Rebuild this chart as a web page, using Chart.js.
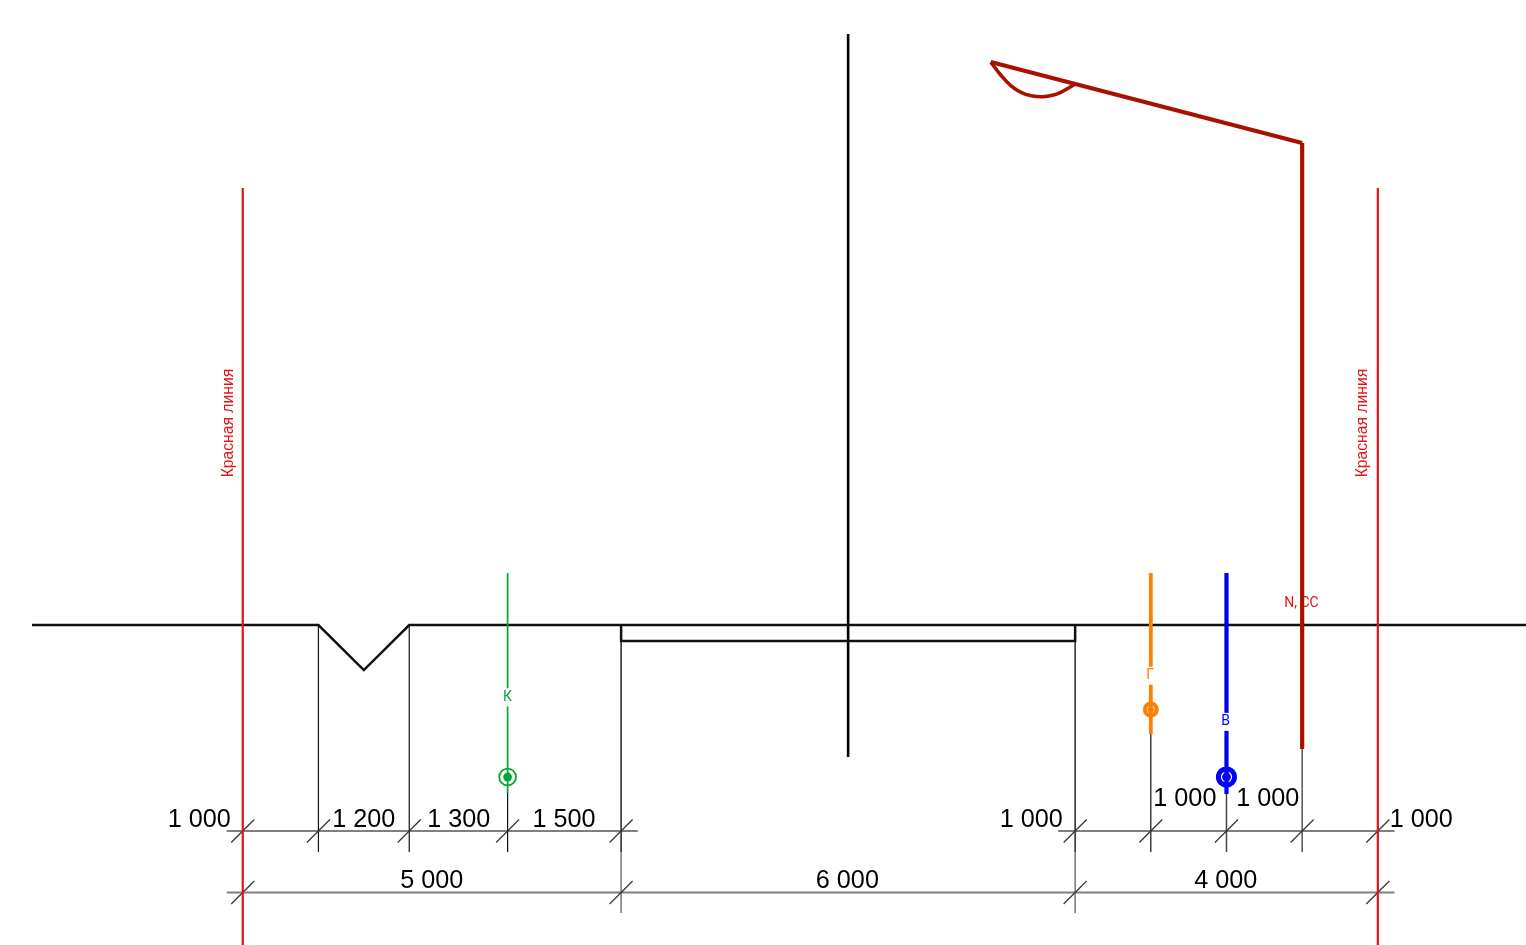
<!DOCTYPE html>
<html><head><meta charset="utf-8">
<style>html,body{margin:0;padding:0;background:#fff;overflow:hidden}canvas{display:block}</style>
<script src="https://cdn.jsdelivr.net/npm/chart.js@4"></script></head>
<body><canvas id="c" width="1526" height="945"></canvas>
<script>
// All lengths in millimetres; x from the left red line, y from ground level.
const xRange=[-3208,16958], yRange=[-4229,8260];
const groundX=[-2785,1000,1600,2200,16958], groundY=[0,0,-595,0,0];
const slabX=[5000,5000,11000,11000], slabY=[0,-211,-211,0];
const axisX=[8000,8000], axisY=[7810,-1744];
const redLineTop=5775, redLineBottom=-4229, redLineXs=[0,15000];
const extFull=[1000,2200], extBottom=-3000, extLongBottom=-3806, extLongXs=[5000,11000];
const dimRow1Y=-2722, dimRow2Y=-3535;
const dimRow1Spans=[[-211,5220],[10775,15220]], dimRow2Spans=[[-211,15220]];
const dimRow1Ticks=[0,1000,2200,3500,5000,11000,12000,13000,14000,15000];
const dimRow2Ticks=[0,5000,11000,15000];
const greenX=3500, greenY=[687,-2220], greenNode=-2009;
const orangeX=12000, orangeY=[687,-1440], orangeNode=-1117;
const blueX=13000, blueY=[687,-2235], blueNode=-2009;
const poleX=14000, poleY=[6370,-1639];
const armX=[14000,9885], armY=[6370,7440];
const lampX=[9885,10020,10149,10285,10420,10568,10700,10810,11000];
const lampY=[7440,7265,7130,7040,6995,6982,7000,7040,7146];
const dimLabels=['1 000','1 200','1 300','1 500','1 000','1 000','1 000','1 000','5 000','6 000','4 000'];
const dimLabelX=[-575,1600,2855,4245,10420,12450,13545,15575,2498,7990,12990];
const dimLabelY=[-2577,-2577,-2577,-2577,-2577,-2299,-2299,-2577,-3383,-3383,-3383];
const netLabels=['К','Г','В'], netLabelX=[3500,11990,12990], netLabelY=[-955,-670,-1280];
const poleLabel='N, СС', poleLabelX=13990, poleLabelY=290;
const redLabel='Красная линия', redLabelX=[-183,14795], redLabelY=2669;

const RED='#e31414', POLE='#a81000', GREEN='#0aa33a', ORANGE='#ff8000', BLUE='#0000f5', DIM='#7f7f7f';
const list=[]; // drawn bottom to top
function line(xs,ys,color,width,extra){list.push(Object.assign({data:xs.map((x,i)=>({x,y:ys[i]})),borderColor:color,borderWidth:width,showLine:true,pointRadius:0,tension:0,fill:false},extra||{}));}
function dot(x,y,r,fill,stroke,sw){list.push({data:[{x,y}],showLine:false,pointRadius:r,pointStyle:'circle',pointBackgroundColor:fill,pointBorderColor:stroke,pointBorderWidth:sw});}

// dimension rows
[[dimRow1Y,dimRow1Spans],[dimRow2Y,dimRow2Spans]].forEach(([y,spans])=>spans.forEach(s=>line(s,[y,y],DIM,2)));
// extension lines
line([5000,5000],[-211,extBottom],'#333',1.6);line([11000,11000],[-211,extBottom],'#333',1.6);
extLongXs.forEach(x=>line([x,x],[extBottom,extLongBottom],'#777',1.5));
extFull.forEach(x=>line([x,x],[0,extBottom],'#111',1.2));
line([greenX,greenX],[greenY[1],extBottom],'#111',1.2);
line([orangeX,orangeX],[orangeY[1],extBottom],'#111',1.2);
line([blueX,blueX],[blueY[1],extBottom],'#444',1.5);
line([poleX,poleX],[poleY[1],extBottom],'#555',1.5);
// tick slashes
[[dimRow1Ticks,dimRow1Y],[dimRow2Ticks,dimRow2Y]].forEach(([xs,y])=>xs.forEach(x=>line([x-152,x+152],[y-152,y+152],'#333',1.2)));
// ground and road
line(groundX,groundY,'#111',2.5);
line(slabX,slabY,'#111',2.5);
line(axisX,axisY,'#000',2.6);
redLineXs.forEach(x=>line([x,x],[redLineTop,redLineBottom],RED,2.2));
// networks
dot(greenX,greenNode,8.4,'#fff',GREEN,1.8);
dot(greenX,greenNode,4.4,GREEN,GREEN,0);
line([greenX,greenX],greenY,GREEN,1.7);
dot(orangeX,orangeNode,8,ORANGE,ORANGE,0);
dot(orangeX,orangeNode,3.6,'rgba(0,0,0,0)','#ffe0c0',1);
line([orangeX,orangeX],orangeY,ORANGE,3.8);
dot(blueX,blueNode,10.6,BLUE,BLUE,0);
dot(blueX,blueNode,5,'rgba(0,0,0,0)','#fff',1.2);
line([blueX,blueX],blueY,BLUE,4.2);
// lamp
line(lampX,lampY,POLE,3.6,{tension:0.4});
line(armX,armY,POLE,4);
line([poleX,poleX],poleY,POLE,4.2);

const sx=(c,v)=>c.scales.x.getPixelForValue(v), sy=(c,v)=>c.scales.y.getPixelForValue(v);
const textPlugin={id:'texts',
 beforeDatasetsDraw(c){const g=c.ctx;g.save();g.textAlign='center';g.textBaseline='middle';
  g.font='14px Roboto';g.fillStyle=RED;
  g.fillText(poleLabel,sx(c,poleLabelX),sy(c,poleLabelY));g.restore();},
 afterDatasetsDraw(c){const g=c.ctx;g.save();g.textAlign='center';g.textBaseline='middle';
  g.font='25.2px "Liberation Sans"';g.fillStyle='#000';
  dimLabels.forEach((t,i)=>g.fillText(t,sx(c,dimLabelX[i]),sy(c,dimLabelY[i])));
  g.font='14px Roboto';
  const cols=[GREEN,ORANGE,BLUE];
  netLabels.forEach((t,i)=>{const x=sx(c,netLabelX[i]),y=sy(c,netLabelY[i]);
   g.fillStyle='#fff';g.fillRect(x-5,y-9,10,18);g.fillStyle=cols[i];g.fillText(t,x,y);});
  g.font='15.7px "Liberation Sans"';g.fillStyle=RED;
  redLabelX.forEach(v=>{g.save();g.translate(sx(c,v),sy(c,redLabelY));g.rotate(-Math.PI/2);g.fillText(redLabel,0,0);g.restore();});
  g.restore();}
};
new Chart(document.getElementById('c'),{type:'scatter',
 data:{datasets:list.slice().reverse()},
 options:{responsive:false,animation:false,events:[],layout:{padding:0,autoPadding:false},
  plugins:{legend:{display:false},tooltip:{enabled:false}},
  scales:{x:{type:'linear',display:false,min:xRange[0],max:xRange[1]},y:{type:'linear',display:false,min:yRange[0],max:yRange[1]}}},
 plugins:[textPlugin]});
</script></body></html>
